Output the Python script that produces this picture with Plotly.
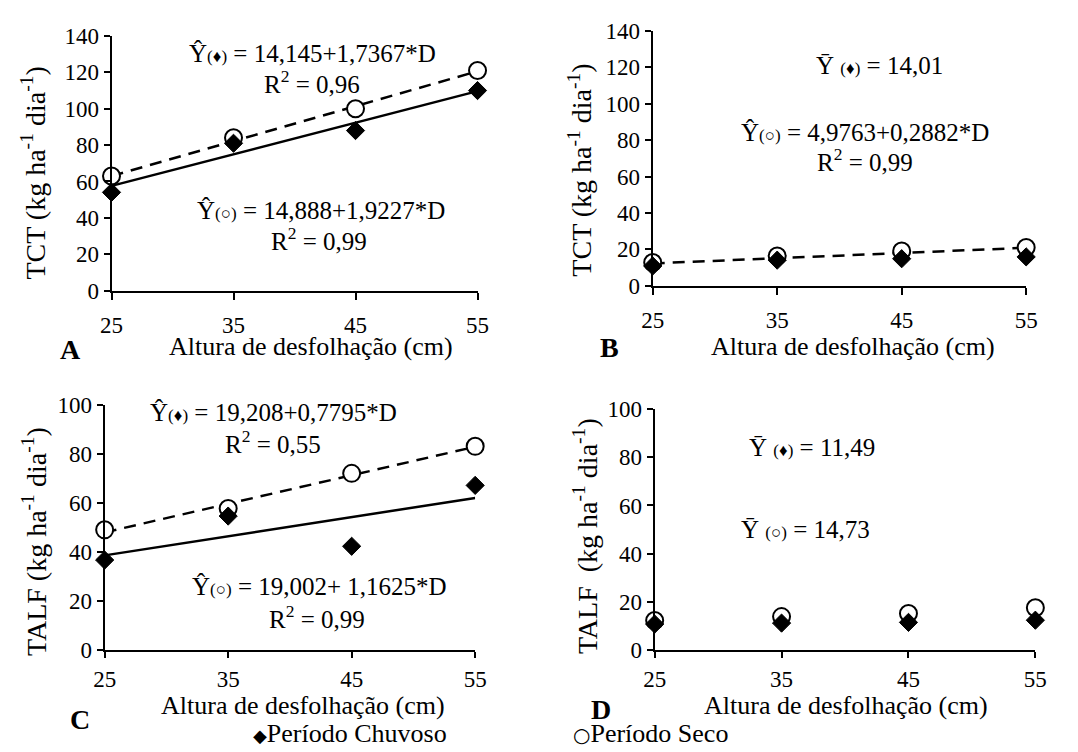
import plotly.graph_objects as go

W, H = 1078, 752

# ---------------- data ----------------
alturas = [25, 35, 45, 55]
x_ticks = [25, 35, 45, 55]

tct_chuvoso_A = [54, 81, 88, 110]
tct_seco_A = [63, 84, 100, 121]
coef_chuvoso_A = [14.145, 1.7367]
coef_seco_A = [14.888, 1.9227]

tct_chuvoso_B = [10.8, 14.0, 14.8, 15.8]
tct_seco_B = [12.7, 16.3, 19.0, 21.0]
coef_seco_B = [4.9763, 0.2882]

talf_chuvoso_C = [36.8, 54.7, 42.4, 67.2]
talf_seco_C = [49.1, 57.8, 72.1, 83.1]
coef_chuvoso_C = [19.208, 0.7795]
coef_seco_C = [19.002, 1.1625]

talf_chuvoso_D = [10.8, 11.2, 11.5, 12.4]
talf_seco_D = [12.3, 13.9, 15.2, 17.6]

FONT = "Liberation Serif, Times New Roman, serif"
FS_TICK = 23
FS_TITLE = 26
FS_YTITLE = 28
FS_EQ = 25
FS_LET = 28

# the page is shown with an 8px top offset and a slight vertical squeeze
TOP_OFF = 8.0
VSCALE = 736.0 / 752.0

def px(x):
    return x / W

def py(y):
    return 1 - ((y - TOP_OFF) / VSCALE) / H

panels = {
    1: (102.7, 476.7, 32.3, 290.0, 140),
    2: (655.7, 1037.3, 27.3, 285.0, 140),
    3: (95.7, 474.3, 405.7, 654.3, 100),
    4: (657.7, 1046.7, 410.0, 654.0, 100),
}

fig = go.Figure()

def axname(i, a):
    return a if i == 1 else f"{a}{i}"

def add_line(i, coef, dash):
    xs = [alturas[0], alturas[-1]]
    ys = [coef[0] + coef[1] * v for v in xs]
    fig.add_trace(go.Scatter(x=xs, y=ys, mode="lines",
                             line=dict(color="black", width=2.5, dash=dash),
                             xaxis=axname(i, "x"), yaxis=axname(i, "y"),
                             showlegend=False, hoverinfo="skip", cliponaxis=False))

def add_points(i, seco, chuvoso):
    fig.add_trace(go.Scatter(x=alturas, y=seco, mode="markers", name="Período Seco",
                             marker=dict(symbol="circle", size=17, color="white",
                                         line=dict(color="black", width=2)),
                             xaxis=axname(i, "x"), yaxis=axname(i, "y"),
                             showlegend=False, cliponaxis=False))
    fig.add_trace(go.Scatter(x=alturas, y=chuvoso, mode="markers", name="Período Chuvoso",
                             marker=dict(symbol="diamond", size=14, color="black",
                                         line=dict(color="black", width=1)),
                             xaxis=axname(i, "x"), yaxis=axname(i, "y"),
                             showlegend=False, cliponaxis=False))

add_line(1, coef_chuvoso_A, "solid")
add_line(1, coef_seco_A, "12px,8px")
add_points(1, tct_seco_A, tct_chuvoso_A)

add_line(2, coef_seco_B, "12px,8px")
add_points(2, tct_seco_B, tct_chuvoso_B)

add_line(3, coef_chuvoso_C, "solid")
add_line(3, coef_seco_C, "12px,8px")
add_points(3, talf_seco_C, talf_chuvoso_C)

add_points(4, talf_seco_D, talf_chuvoso_D)

layout = dict(
    width=W, height=H, margin=dict(l=0, r=0, t=0, b=0),
    paper_bgcolor="white", plot_bgcolor="white", showlegend=False,
    font=dict(family=FONT, size=FS_TICK, color="black"),
)
for i, (l, r, t, b, ymax) in panels.items():
    layout[axname(i, "xaxis")] = dict(
        domain=[px(l), px(r)], range=[25, 55], tickvals=x_ticks,
        showline=True, linecolor="black", linewidth=2, ticks="outside",
        ticklen=7 if i <= 2 else 6, tickwidth=2, tickcolor="black", showgrid=False, zeroline=False,
        anchor=axname(i, "y"), tickfont=dict(family=FONT, size=FS_TICK, color="black"),
        ticklabelstandoff=6 if i <= 2 else 1,
    )
    layout[axname(i, "yaxis")] = dict(
        domain=[py(b), py(t)], range=[0, ymax], dtick=20,
        showline=True, linecolor="black", linewidth=2, ticks="outside",
        ticklen=6, tickwidth=2, tickcolor="black", showgrid=False, zeroline=False,
        anchor=axname(i, "x"), tickfont=dict(family=FONT, size=FS_TICK, color="black"),
    )
fig.update_layout(**layout)

SM = 'style="font-size:17px"'
eqs = [
    # panel A
    (308, 50, f"Ŷ<span {SM}>(♦)</span> = 14,145+1,7367*D"),
    (308, 79, "R<sup>2</sup> = 0,96"),
    (317, 209, f"Ŷ<span {SM}>(○)</span> = 14,888+1,9227*D"),
    (315, 238, "R<sup>2</sup> = 0,99"),
    # panel B
    (887, 62, f"Ȳ <span {SM}>(♦)</span> = 14,01"),
    (873, 130, f"Ŷ<span {SM}>(○)</span> = 4,9763+0,2882*D"),
    (873, 158, "R<sup>2</sup> = 0,99"),
    # panel C
    (268, 413, f"Ŷ<span {SM}>(♦)</span> = 19,208+0,7795*D"),
    (268, 443, "R<sup>2</sup> = 0,55"),
    (315, 590, f"Ŷ<span {SM}>(○)</span> = 19,002+ 1,1625*D"),
    (313, 620, "R<sup>2</sup> = 0,99"),
    # panel D
    (818, 449, f"Ȳ <span {SM}>(♦)</span> = 11,49"),
    (812, 532, f"Ȳ <span {SM}>(○)</span> = 14,73"),
]
xtitles = [(307, 347), (860, 347), (298, 710), (853, 710)]
ytitles = [
    (23, 171, "TCT (kg ha<sup>-1</sup> dia<sup>-1</sup>)"),
    (581, 168, "TCT (kg ha<sup>-1</sup> dia<sup>-1</sup>)"),
    (24, 544, "TALF (kg ha<sup>-1</sup> dia<sup>-1</sup>)"),
    (587, 538, "TALF  (kg ha<sup>-1</sup> dia<sup>-1</sup>)"),
]
letters = [(61, 350, "A"), (612, 348, "B"), (70, 724, "C"), (603, 714, "D")]

def ann(x, y, text, size, ang=0, xanchor="center"):
    fig.add_annotation(x=px(x), y=py(y), xref="paper", yref="paper", text=text,
                       showarrow=False, textangle=ang, xanchor=xanchor, yanchor="middle",
                       font=dict(family=FONT, size=size, color="black"))

for x, y, t in eqs:
    ann(x, y, t, FS_EQ)
for x, y in xtitles:
    ann(x, y, "Altura de desfolhação (cm)", FS_TITLE)
for x, y, t in ytitles:
    ann(x, y, t, FS_YTITLE, ang=-90)
for x, y, t in letters:
    ann(x, y, f"<b>{t}</b>", FS_LET)

ann(245, 738, '<span style="font-family:DejaVu Sans;font-size:18px">◆</span>Período Chuvoso',
    FS_TITLE, xanchor="left")
ann(572, 738, '<span style="font-family:DejaVu Sans;font-size:20px">○</span>Período Seco',
    FS_TITLE, xanchor="left")

fig.write_html("out.html")
